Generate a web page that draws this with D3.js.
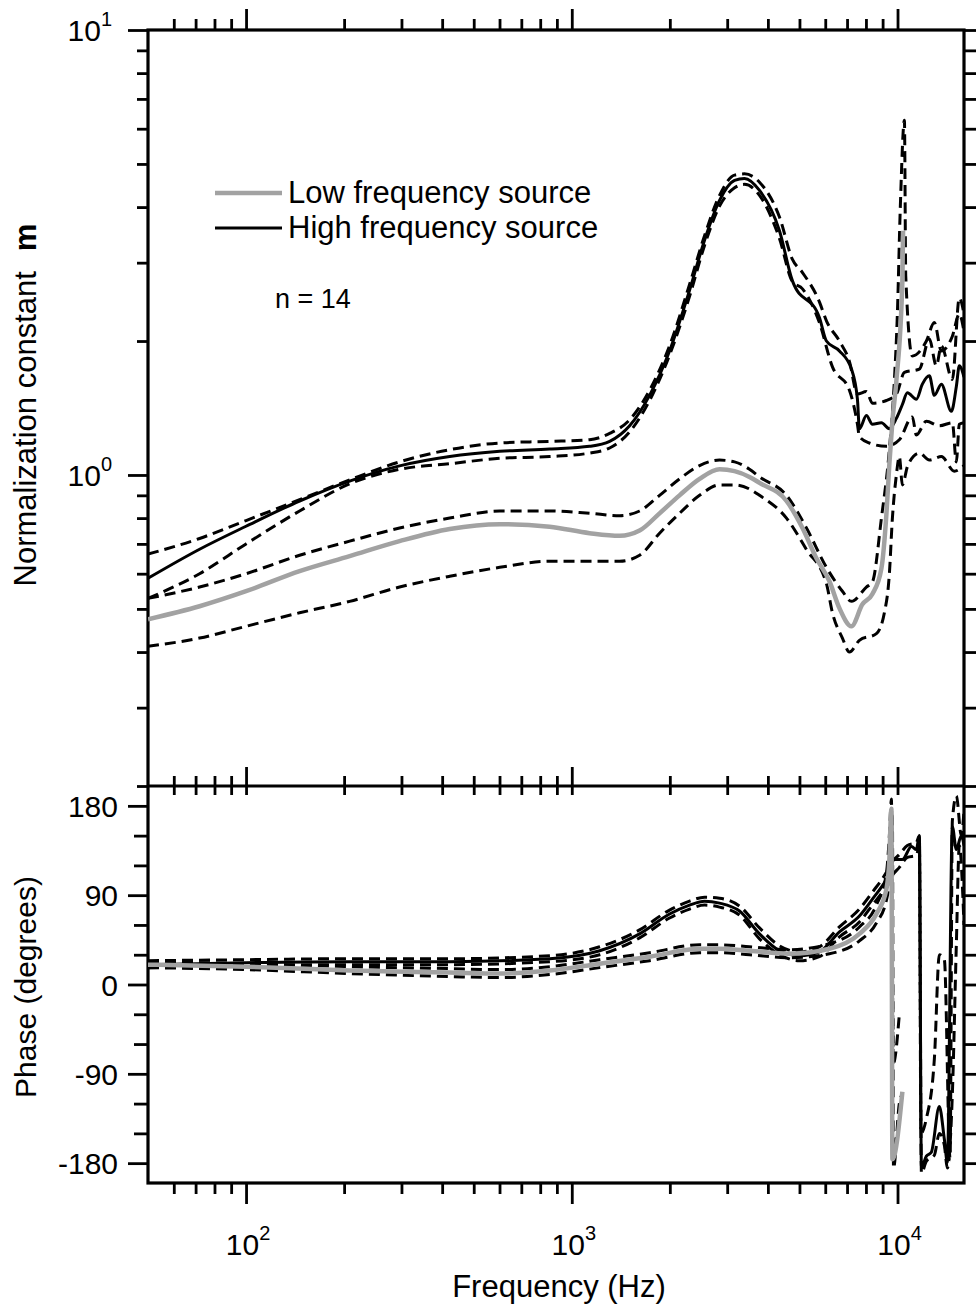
<!DOCTYPE html>
<html>
<head>
<meta charset="utf-8">
<script src="https://cdn.jsdelivr.net/npm/d3@7"></script>
<style>
  body { margin: 0; background: #fff; }
  text { font-family: "Liberation Sans", Arial, Helvetica, sans-serif; fill: #000; }
</style>
</head>
<body>
<svg id="chart" width="978" height="1308"></svg>
<script>
// ---- data: [frequency Hz, value] ----
// magnitude, high frequency source (mean, +sd, -sd)
const hiMag = [[50,0.586],[72,0.681],[100,0.767],[146,0.874],[208,0.969],[296,1.048],[422,1.10],[601,1.13],[855,1.144],[1134,1.16],[1307,1.19],[1505,1.29],[1733,1.51],[1996,1.90],[2299,2.60],[2556,3.37],[2842,4.14],[3160,4.59],[3391,4.64],[3770,4.36],[4341,3.54],[4758,2.73],[5757,2.26],[6050,2.0],[6632,1.90],[7220,1.73],[7533,1.48],[7638,1.27],[8025,1.36],[8374,1.30],[8925,1.31],[9441,1.27],[9920,1.34],[10350,1.44],[10722,1.53],[11425,1.48],[11921,1.60],[12525,1.67],[12976,1.51],[13630,1.60],[14633,1.39],[15156,1.58],[15480,1.76],[16000,1.66]]
const hiMagUp = [[50,0.664],[72,0.72],[100,0.79],[146,0.88],[208,0.975],[296,1.07],[422,1.14],[601,1.18],[855,1.19],[1134,1.20],[1307,1.24],[1505,1.33],[1733,1.55],[1996,1.95],[2299,2.68],[2556,3.45],[2842,4.25],[3160,4.72],[3391,4.75],[3770,4.55],[4341,3.80],[4758,3.05],[5108,2.85],[5757,2.45],[6050,2.22],[6632,2.0],[7118,1.80],[7533,1.52],[8025,1.54],[8374,1.45],[9245,1.47],[9920,1.52],[10500,1.70],[11670,1.73],[12525,2.02],[13160,1.76],[13630,1.95],[14737,1.64],[15480,2.5],[16000,2.3]]
const hiMagLo = [[50,0.528],[72,0.60],[100,0.70],[146,0.83],[208,0.955],[296,1.03],[422,1.06],[601,1.09],[855,1.10],[1134,1.12],[1307,1.15],[1505,1.25],[1733,1.47],[1996,1.86],[2299,2.52],[2556,3.28],[2842,4.02],[3160,4.42],[3391,4.50],[3770,4.25],[4341,3.40],[4758,2.72],[5108,2.62],[5757,2.20],[6313,1.75],[7118,1.55],[7533,1.30],[7638,1.22],[8197,1.18],[9245,1.16],[10130,1.20],[11107,1.35],[11425,1.23],[12265,1.32],[13440,1.29],[14737,1.31],[15156,1.07],[15480,1.30],[16000,1.31]]
// magnitude, low frequency source
const loMag = [[50,0.474],[72,0.507],[100,0.548],[146,0.608],[208,0.657],[296,0.71],[422,0.756],[601,0.775],[855,0.765],[1134,0.74],[1403,0.73],[1615,0.75],[1860,0.82],[2142,0.90],[2468,0.98],[2842,1.03],[3160,1.02],[3512,0.99],[3770,0.96],[4562,0.874],[5108,0.76],[5637,0.65],[6180,0.577],[6632,0.502],[7220,0.457],[7803,0.512],[8374,0.54],[8925,0.617],[9245,0.817],[9441,1.06],[9645,1.32],[9920,1.63],[10350,2.73],[10400,3.54]]
const loMagUp = [[50,0.528],[72,0.56],[100,0.60],[146,0.66],[208,0.71],[296,0.76],[422,0.80],[601,0.83],[855,0.83],[1134,0.82],[1403,0.81],[1615,0.83],[1860,0.90],[2142,0.98],[2468,1.05],[2842,1.08],[3160,1.07],[3512,1.03],[3770,0.99],[4562,0.90],[5254,0.76],[6050,0.62],[6774,0.548],[7220,0.52],[8025,0.56],[8374,0.575],[8925,0.80],[9441,1.14],[9781,1.63],[9990,2.30],[10200,4.0],[10500,6.27],[10600,2.8],[11107,1.85],[12265,2.0],[12976,2.2],[13630,1.9],[14737,2.05],[15480,2.3],[16000,2.1]]
const loMagLo = [[50,0.412],[72,0.43],[100,0.457],[146,0.49],[208,0.52],[296,0.56],[422,0.592],[601,0.62],[855,0.64],[1134,0.64],[1403,0.64],[1615,0.66],[1860,0.74],[2142,0.82],[2468,0.90],[2842,0.95],[3160,0.95],[3512,0.93],[3770,0.90],[4562,0.80],[5254,0.68],[6050,0.57],[6313,0.49],[6774,0.43],[7118,0.40],[7638,0.425],[8613,0.44],[9113,0.49],[9441,0.60],[9645,0.80],[9920,1.0],[10130,1.10],[10350,0.95],[10750,1.05],[11670,1.12],[12525,1.08],[13630,1.10],[14944,1.02],[16000,1.05]]
// phase (degrees), high frequency source
const hiPhase = [[50,20],[100,22],[208,23],[422,23],[855,26],[1218,34],[1615,51],[1996,71],[2299,80],[2556,84],[2842,82],[3273,74],[3770,51],[4341,34],[5000,29],[5757,33],[6632,53],[7638,69],[8374,86],[9245,106],[9578,116],[9645,126],[10350,126],[11040,139],[11425,136],[11670,150],[11840,-184],[12265,-173],[12700,-169],[13440,-123],[13925,-156],[14223,-179],[14737,159],[15156,136],[15700,150],[16000,140]]
const hiPhaseUp = [[50,24],[100,25],[208,26],[422,26],[855,29],[1218,38],[1615,55],[1996,75],[2299,84],[2556,88],[2842,87],[3273,79],[3770,57],[4341,39],[5000,33],[5757,38],[6632,58],[7638,76],[8374,93],[9245,113],[9645,124],[10130,131],[10722,140],[11425,143],[11670,150],[11800,-150],[12265,-135],[12976,-75],[13440,30],[13925,25],[14500,-175],[14737,165],[15156,190],[15700,150],[16000,175]]
const hiPhaseLo = [[50,17],[100,19],[208,20],[422,20],[855,23],[1218,30],[1615,47],[1996,67],[2299,76],[2556,80],[2842,78],[3273,70],[3770,46],[4341,30],[5000,24],[5757,28],[6632,48],[7638,63],[8374,80],[9245,99],[9645,110],[10130,118],[10722,128],[11425,130],[11670,140],[11840,-190],[12265,-178],[12976,-172],[13440,-150],[13925,-162],[14223,-185],[14737,-110],[15156,40],[15480,140],[16000,60]]
// phase (degrees), low frequency source
const loPhase = [[50,20],[100,18],[208,14],[422,12],[601,11],[855,14],[1218,21],[1733,28],[2468,36],[2842,36],[3512,34],[4660,31],[6180,36],[7638,51],[8613,71],[9245,96],[9441,126],[9530,167],[9578,177],[9645,-176],[10350,-108]]
const loPhaseUp = [[50,23],[100,21],[208,18],[422,16],[601,15],[855,18],[1218,25],[1733,32],[2468,40],[2842,40],[3512,38],[4660,35],[6180,41],[7638,58],[8613,80],[9245,112],[9441,150],[9578,187],[9700,-80],[10130,-30]]
const loPhaseLo = [[50,17],[100,15],[208,11],[422,8],[601,7],[855,10],[1218,17],[1733,24],[2468,32],[2842,32],[3512,30],[4660,27],[6180,31],[7638,44],[8613,62],[9245,85],[9441,105],[9578,140],[9645,170],[9720,-185],[10130,-120],[10350,-110]]

// ---- ticks ----
const freqMajor = [100, 1000, 10000]
const freqMinor = [60, 70, 80, 90, 200, 300, 400, 500, 600, 700, 800, 900, 2000, 3000, 4000, 5000, 6000, 7000, 8000, 9000]
const magMajor = [1, 10]
const magMinor = [0.2, 0.3, 0.4, 0.5, 0.6, 0.7, 0.8, 0.9, 2, 3, 4, 5, 6, 7, 8, 9]
const phaseTicks = [-180, -150, -120, -90, -60, -30, 0, 30, 60, 90, 120, 150, 180]
const phaseLabels = [-180, -90, 0, 90, 180]

const svg = d3.select('#chart')
const xLeft = 148, xRight = 964, yTop = 30, yMid = 786, yBottom = 1183

const x = d3.scaleLog().domain([50, 16000]).range([xLeft, xRight])
const yMag = d3.scaleLog().domain([0.2, 10]).range([yMid, yTop])
const yPh = d3.scaleLinear().domain([-200, 200]).range([yBottom, yMid])

// clip regions
const defs = svg.append('defs')
defs.append('clipPath').attr('id', 'clipTop').append('rect')
  .attr('x', xLeft).attr('y', yTop).attr('width', xRight - xLeft).attr('height', yMid - yTop)
defs.append('clipPath').attr('id', 'clipBot').append('rect')
  .attr('x', xLeft).attr('y', yMid).attr('width', xRight - xLeft).attr('height', yBottom - yMid)

// axis helper: draws ticks only (no domain line)
function ticks(axis, tx, ty, size) {
  const g = svg.append('g').attr('transform', `translate(${tx},${ty})`)
    .call(axis.tickSize(size).tickFormat(''))
  g.select('.domain').remove()
  g.selectAll('line').attr('stroke', '#000').attr('stroke-width', 2.8)
  return g
}

// frequency ticks
ticks(d3.axisTop(x).tickValues(freqMinor), 0, yTop, 11)
ticks(d3.axisTop(x).tickValues(freqMajor), 0, yTop, 21)
ticks(d3.axisTop(x).tickValues(freqMinor), 0, yMid, 10)
ticks(d3.axisTop(x).tickValues(freqMajor), 0, yMid, 19)
ticks(d3.axisBottom(x).tickValues(freqMinor.concat(freqMajor)), 0, yMid, 9)
ticks(d3.axisBottom(x).tickValues(freqMinor), 0, yBottom, 11)
ticks(d3.axisBottom(x).tickValues(freqMajor), 0, yBottom, 21)

// magnitude ticks
ticks(d3.axisLeft(yMag).tickValues(magMinor), xLeft, 0, 11)
ticks(d3.axisLeft(yMag).tickValues(magMajor), xLeft, 0, 20)
ticks(d3.axisRight(yMag).tickValues(magMinor), xRight, 0, 12)
ticks(d3.axisRight(yMag).tickValues(magMajor), xRight, 0, 12)

// phase ticks
ticks(d3.axisLeft(yPh).tickValues(phaseTicks.filter(d => !phaseLabels.includes(d))), xLeft, 0, 14)
ticks(d3.axisLeft(yPh).tickValues(phaseLabels), xLeft, 0, 20)
ticks(d3.axisRight(yPh).tickValues(phaseTicks), xRight, 0, 12)

// frame
svg.append('rect').attr('x', xLeft).attr('y', yTop).attr('width', xRight - xLeft).attr('height', yBottom - yTop)
  .attr('fill', 'none').attr('stroke', '#000').attr('stroke-width', 3.2)
svg.append('line').attr('x1', xLeft).attr('x2', xRight).attr('y1', yMid).attr('y2', yMid)
  .attr('stroke', '#000').attr('stroke-width', 3.2)

// tick labels
const fs = 30
function powLabel(g, base, exp, anchor) {
  const t = g.append('text').attr('font-size', fs).attr('text-anchor', anchor)
  t.append('tspan').text(base)
  t.append('tspan').attr('font-size', 20).attr('dy', -15).text(exp)
  return t
}
freqMajor.forEach(f => {
  const g = svg.append('g').attr('transform', `translate(${x(f) + 2},1255)`)
  powLabel(g, '10', Math.round(Math.log10(f)), 'middle')
})
magMajor.forEach(m => {
  const g = svg.append('g').attr('transform', `translate(112,${yMag(m) + 11})`)
  powLabel(g, '10', Math.round(Math.log10(m)), 'end')
})
phaseLabels.forEach(p => {
  svg.append('text').attr('x', 118).attr('y', yPh(p) + 11)
    .attr('font-size', fs).attr('text-anchor', 'end').text(p)
})

// axis titles
svg.append('text').attr('transform', 'translate(36,405) rotate(-90)')
  .attr('font-size', 31).attr('text-anchor', 'middle')
  .call(t => {
    t.append('tspan').text('Normalization constant')
    t.append('tspan').attr('dx', 20).attr('font-weight', 'bold').text('m')
  })
svg.append('text').attr('transform', 'translate(36,987) rotate(-90)')
  .attr('font-size', fs).attr('text-anchor', 'middle').text('Phase (degrees)')
svg.append('text').attr('x', 559).attr('y', 1297)
  .attr('font-size', 31).attr('text-anchor', 'middle').text('Frequency (Hz)')

// curves
const gray = '#a2a2a2'
function curve(data, yScale, clip, style) {
  const line = d3.line().x(d => x(d[0])).y(d => yScale(d[1])).curve(d3.curveMonotoneX)
  svg.append('path').datum(data)
    .attr('clip-path', `url(#${clip})`)
    .attr('d', line)
    .attr('fill', 'none')
    .attr('stroke', style.color)
    .attr('stroke-width', style.width)
    .attr('stroke-dasharray', style.dash || null)
    .attr('stroke-linejoin', 'round')
}
const dashed = { color: '#000', width: 3, dash: '11,6' }
const solid = { color: '#000', width: 3 }
const grayLine = { color: gray, width: 4.5 }

;[hiMagUp, hiMagLo, loMagUp, loMagLo].forEach(d => curve(d, yMag, 'clipTop', dashed))
curve(hiMag, yMag, 'clipTop', solid)
curve(loMag, yMag, 'clipTop', grayLine)

;[hiPhaseUp, hiPhaseLo, loPhaseUp, loPhaseLo].forEach(d => curve(d, yPh, 'clipBot', dashed))
curve(hiPhase, yPh, 'clipBot', solid)
curve(loPhase, yPh, 'clipBot', grayLine)

// legend
const legend = svg.append('g')
legend.append('line').attr('x1', 215).attr('x2', 282).attr('y1', 193).attr('y2', 193)
  .attr('stroke', gray).attr('stroke-width', 4.5)
legend.append('line').attr('x1', 215).attr('x2', 282).attr('y1', 228).attr('y2', 228)
  .attr('stroke', '#000').attr('stroke-width', 3)
legend.append('text').attr('x', 288).attr('y', 203).attr('font-size', 31).text('Low frequency source')
legend.append('text').attr('x', 288).attr('y', 238).attr('font-size', 31).text('High frequency source')
svg.append('text').attr('x', 275).attr('y', 308).attr('font-size', 27).text('n = 14')
</script>
</body>
</html>
